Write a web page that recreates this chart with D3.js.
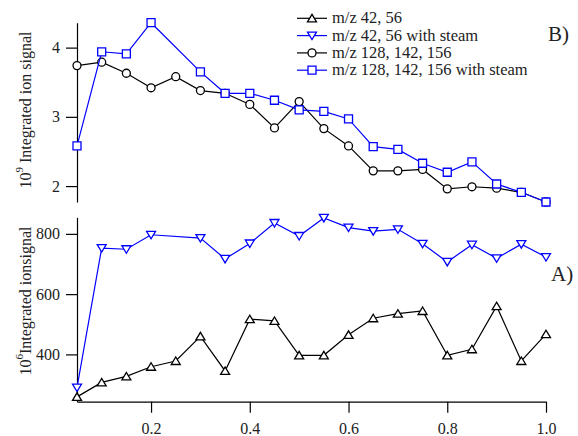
<!DOCTYPE html>
<html>
<head>
<meta charset="utf-8">
<script src="https://cdn.jsdelivr.net/npm/d3@7"></script>
<style>
  body { margin: 0; background: #fff; }
  text { font-family: "Liberation Serif", "Times New Roman", serif; fill: #222; }
</style>
</head>
<body>
<div id="chart"></div>
<script>
var width = 578;
var height = 436;

// x positions (fraction)
var xAll = [0.05, 0.10, 0.15, 0.20, 0.25, 0.30, 0.35, 0.40, 0.45, 0.50,
            0.55, 0.60, 0.65, 0.70, 0.75, 0.80, 0.85, 0.90, 0.95, 1.00];
// steam series have no point at 0.25
var xSteam = [0.05, 0.10, 0.15, 0.20, 0.30, 0.35, 0.40, 0.45, 0.50,
              0.55, 0.60, 0.65, 0.70, 0.75, 0.80, 0.85, 0.90, 0.95, 1.00];

// panel B (10^9)
var heavy = [3.74, 3.79, 3.63, 3.42, 3.58, 3.38, 3.34, 3.18, 2.84, 3.22,
             2.83, 2.58, 2.22, 2.22, 2.24, 1.96, 1.99, 1.97, 1.91, 1.77];
var heavySteam = [2.58, 3.94, 3.91, 4.36, 3.65, 3.34, 3.34, 3.24, 3.10,
                  3.08, 2.97, 2.57, 2.53, 2.33, 2.20, 2.35, 2.03, 1.91, 1.77];

// panel A (10^6)
var light = [259, 307, 327, 359, 378, 460, 345, 517, 511, 397,
             397, 465, 520, 535, 544, 397, 417, 560, 378, 467];
var lightSteam = [290, 753, 749, 797, 786, 717, 768, 836, 793,
                  853, 821, 809, 815, 767, 707, 764, 719, 766, 723];

var xTicks = [0.2, 0.4, 0.6, 0.8, 1.0];
var topTicks = [2, 3, 4];
var bottomTicks = [400, 600, 800];

var legendLabels = ["m/z 42, 56", "m/z 42, 56 with steam",
                    "m/z 128, 142, 156", "m/z 128, 142, 156 with steam"];

var serif = '"Liberation Serif", "Times New Roman", serif';

var svg = d3.select("#chart").append("svg")
    .attr("width", width)
    .attr("height", height);

var x = d3.scaleLinear().domain([0.05, 1.0]).range([77, 546]);
var yTop = d3.scaleLinear().domain([1.77, 4.36]).range([202, 22.7]);
var yBot = d3.scaleLinear().domain([243, 855]).range([401.7, 217.3]);

function markerPath(kind) {
    if (kind == "up") return "M-4.5,3.5L4.5,3.5L0,-4Z";
    if (kind == "down") return "M-4.5,-3.5L4.5,-3.5L0,4Z";
    if (kind == "square") return "M-4,-4H4V4H-4Z";
    return d3.symbol().type(d3.symbolCircle).size(50)();
}

function drawSeries(xs, ys, yScale, color, kind) {
    var pts = xs.map(function(d, i) { return [d, ys[i]]; });
    var line = d3.line().x(d => x(d[0])).y(d => yScale(d[1]));
    svg.append("path")
        .attr("d", line(pts))
        .attr("fill", "none")
        .attr("stroke", color)
        .attr("stroke-width", 1.2);
    svg.selectAll(null)
        .data(pts)
        .enter()
        .append("path")
        .attr("d", markerPath(kind))
        .attr("transform", d => "translate(" + x(d[0]) + "," + yScale(d[1]) + ")")
        .attr("fill", "#fff")
        .attr("stroke", color)
        .attr("stroke-width", 1.3);
}

// axes
var axTop = svg.append("g")
    .attr("transform", "translate(77,0)")
    .call(d3.axisLeft(yTop).tickValues(topTicks).tickFormat(d3.format("d")).tickSize(11).tickPadding(6).tickSizeOuter(0));
var axBot = svg.append("g")
    .attr("transform", "translate(77,0)")
    .call(d3.axisLeft(yBot).tickValues(bottomTicks).tickFormat(d3.format("d")).tickSize(11).tickPadding(6).tickSizeOuter(0));
var axX = svg.append("g")
    .attr("transform", "translate(0,401.7)")
    .call(d3.axisBottom(x).tickValues(xTicks).tickFormat(d3.format(".1f")).tickSize(11).tickPadding(10).tickSizeOuter(0));

[axTop, axBot, axX].forEach(function(g) {
    g.attr("font-family", serif).attr("font-size", 16);
    g.selectAll("text")
        .attr("font-family", serif)
        .style("font-family", serif)
        .style("font-size", "16px")
        .attr("fill", "#222");
    g.selectAll("line, path").attr("stroke", "#000").attr("stroke-width", 1.2);
});

// series
drawSeries(xAll, heavy, yTop, "#000", "circle");
drawSeries(xSteam, heavySteam, yTop, "#0000ff", "square");
drawSeries(xSteam, lightSteam, yBot, "#0000ff", "down");
drawSeries(xAll, light, yBot, "#000", "up");

// axis titles
var t1 = svg.append("text")
    .attr("transform", "translate(31,110) rotate(-90)")
    .attr("text-anchor", "middle")
    .style("font-size", "16px");
t1.append("tspan").text("10");
t1.append("tspan").attr("dy", -8).style("font-size", "11px").text("9");
t1.append("tspan").attr("dy", 8).text(" Integrated ion signal");

var t2 = svg.append("text")
    .attr("transform", "translate(31,301) rotate(-90)")
    .attr("text-anchor", "middle")
    .style("font-size", "16px");
t2.append("tspan").text("10");
t2.append("tspan").attr("dy", -8).style("font-size", "11px").text("6");
t2.append("tspan").attr("dy", 8).text("Integrated ionsignal");

// panel labels
svg.append("text").attr("x", 548).attr("y", 41).style("font-size", "21px").text("B)");
svg.append("text").attr("x", 551).attr("y", 281).style("font-size", "21px").text("A)");

// legend
var legendColors = ["#000", "#0000ff", "#000", "#0000ff"];
var legendKinds = ["up", "down", "circle", "square"];
var leg = svg.append("g");
legendLabels.forEach(function(lab, i) {
    var cy = 18.3 + i * 17.3;
    leg.append("line")
        .attr("x1", 297).attr("x2", 327)
        .attr("y1", cy).attr("y2", cy)
        .attr("stroke", legendColors[i]).attr("stroke-width", 1.2);
    leg.append("path")
        .attr("d", markerPath(legendKinds[i]))
        .attr("transform", "translate(312," + cy + ")")
        .attr("fill", "#fff")
        .attr("stroke", legendColors[i])
        .attr("stroke-width", 1.3);
    leg.append("text")
        .attr("x", 332).attr("y", cy + 5)
        .style("font-size", "16.5px")
        .text(lab);
});
</script>
</body>
</html>
